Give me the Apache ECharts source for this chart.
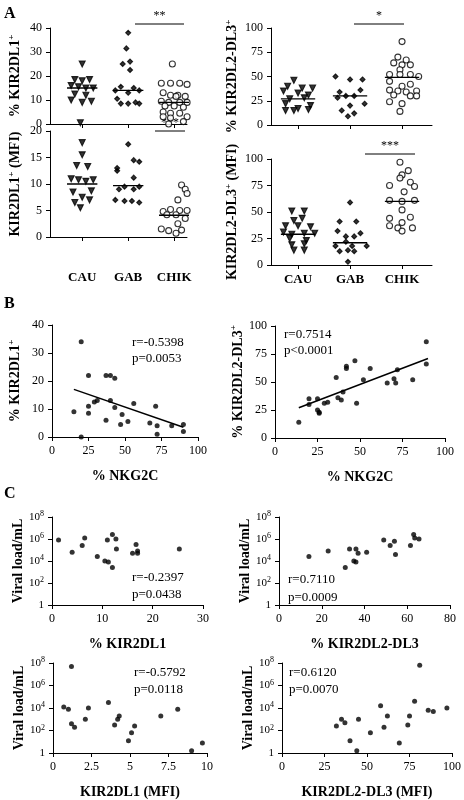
<!DOCTYPE html><html><head><meta charset="utf-8">
<script src="https://cdn.jsdelivr.net/npm/echarts@6/dist/echarts.min.js"></script>
<style>html,body{margin:0;background:#fff}#c{width:464px;height:800px}</style></head><body><div id="c"></div>
<script>
const groups=['CAU','GAB','CHIK'];
// Panel A: [dx, value] per group
const a1CAU=[[0,25],[-0.2,18.5],[0,18],[0.2,18.5],[-0.3,16],[-0.1,15.5],[0.1,15],[0.3,15],[-0.2,12.5],[0.1,12],[-0.3,10],[0.25,9.5],[0,9],[-0.05,0.5]];
const a1GAB=[[0,38],[-0.05,31.5],[-0.15,25],[0.05,26],[0.05,22.5],[-0.2,15.5],[0.15,15],[-0.35,14],[0.3,14],[0,13],[-0.3,10.5],[0.2,9],[-0.2,8.5],[0,8.5],[0.3,8.5]];
const a1CHIK=[[-0.05,25],[-0.35,17],[-0.1,17],[0.15,17],[0.35,16.5],[-0.3,13],[-0.1,12],[0.1,12],[0.3,11.5],[0.05,11.5],[-0.35,9.5],[-0.15,9],[0.15,9],[0.35,9],[-0.25,7.5],[0,7.5],[0.25,7],[-0.3,5],[-0.1,4.5],[0.15,4.5],[-0.3,3],[0.35,3],[-0.1,2.5],[0.25,1],[-0.15,0]];
const a1Med=[15,14,9];
const a2CAU=[[0,17.8],[0,15.5],[-0.15,13.5],[0.15,13.3],[-0.3,11],[-0.1,10.8],[0.1,10.5],[0.3,10.8],[-0.25,8.5],[0.25,8.7],[0,7.5],[-0.2,6.5],[0.2,7],[-0.05,5.5]];
const a2GAB=[[0,17.5],[0.15,14.5],[0.3,14.2],[-0.3,13],[-0.3,12.5],[0.15,11.2],[-0.1,9.5],[0.3,9.5],[0.15,9],[-0.25,9],[-0.35,7],[-0.1,6.8],[0.1,6.8],[0.3,6.5]];
const a2CHIK=[[0.2,9.8],[0.3,9],[0.35,8.2],[0.1,7],[-0.1,5.2],[0.15,5],[0.35,5],[-0.3,4.8],[-0.2,4.2],[0.05,4.2],[0.3,3.5],[0.1,2.5],[-0.35,1.5],[-0.15,1.2],[0.2,1.3],[0.45,1.2],[0.05,0.7]];
const a2Med=[10,9.7,4.1];
const a3CAU=[[-0.1,46],[-0.25,40],[0.1,38],[0.35,38],[-0.35,35],[0,33],[0.25,31],[-0.2,27],[0.15,28],[-0.3,22],[0.3,20],[0,17],[-0.3,15],[-0.1,15],[0.25,16]];
const a3GAB=[[-0.35,50],[0,47],[0.3,47],[-0.25,34],[0.25,36],[-0.1,30],[0.1,30],[-0.3,28],[0.35,22],[0,20],[-0.2,15],[0.1,12],[-0.05,9]];
const a3CHIK=[[0,86],[-0.1,70],[0.1,67],[-0.2,64],[0,62],[0.2,62],[-0.05,57],[-0.3,52],[-0.05,52],[0.2,52],[0.4,50],[-0.3,45],[0,40],[0.2,42],[-0.3,36],[-0.1,35],[0.1,34],[0.35,35],[-0.2,31],[0.2,30],[0.35,30],[-0.3,24],[0,22],[-0.05,14]];
const a3Med=[27,30,49];
const a4CAU=[[-0.15,51],[0.15,51],[-0.1,42],[0.1,44],[-0.3,37],[0,37],[0.3,36],[-0.35,31],[-0.15,29],[0.15,30],[0.4,30],[-0.2,25],[0.2,23],[-0.15,19],[0.15,20],[-0.1,14],[0.15,14]];
const a4GAB=[[0,59],[-0.25,41],[0.15,41],[-0.3,32],[0.25,30],[-0.1,27],[0.1,27],[-0.1,22],[-0.35,18],[0.05,18],[0.4,18],[-0.25,13],[0.1,13],[-0.05,14],[-0.05,3]];
const a4CHIK=[[-0.05,97],[0.15,89],[0,85],[-0.05,82],[0.2,78],[-0.3,75],[0.3,74],[0.05,69],[-0.3,61],[0,60],[0.3,61],[0,52],[-0.3,44],[0.2,45],[0,40],[-0.3,37],[-0.1,35],[0.25,35],[0,32]];
const a4Med=[29,21,60];
// Panel B: [x, y]
const b1=[[20,34],[25,22],[37,22],[40,22],[43,21],[15,9],[25,11],[25,8.5],[29,12.5],[31,13],[40,13],[43,10.5],[37,6],[47,4.5],[48,8],[52,5.5],[56,12],[67,5],[71,11],[72,4],[72,1],[82,4],[90,4.5],[90,2],[20,0]];
const b1Fit=[[15,17],[90,3.5]];
const b2=[[14,14],[20,35],[20,30],[25,35],[25,25],[26,23],[26,22],[29,31],[31,32],[36,54],[37,36],[39,34],[40,41],[42,64],[42,62],[47,69],[48,31],[52,52],[56,62],[66,49],[70,53],[71,49],[72,61],[81,52],[89,86],[89,66]];
const b2Fit=[[14,27],[90,71]];
// Panel C: [x, log10 viral load]
const c1=[[1.3,5.9],[4,8.5],[4,4.8],[6,5.4],[6.5,6.1],[9,4.4],[10.5,4],[11,5.9],[11.2,3.9],[12,3.4],[12,6.4],[12.7,6],[12.8,5.1],[16,4.7],[16.7,5.5],[17,4.7],[17,4.9],[25.3,5.1]];
const c2=[[14,4.4],[23,4.9],[31,3.4],[33,5.1],[35,4],[36,3.9],[36,5.1],[37,4.7],[41,4.8],[49,5.9],[52,5.4],[52.5,8.6],[54,5.8],[54.5,4.6],[61.5,5.4],[63,6.4],[63.5,6.1],[65.5,6]];
const c3=[[0.7,4.1],[1,3.9],[1.2,7.7],[1.2,2.6],[1.4,2.3],[2.1,3],[2.3,4],[3.6,4.5],[4,2.5],[4.2,3],[4.3,3.3],[4.9,1.1],[5.1,1.8],[5.3,2.4],[7,3.3],[8.1,3.9],[9,0.2],[9.7,0.9]];
const c4=[[32,2.4],[35,3],[37,2.7],[40,1.1],[44,0.2],[45,3],[52,1.8],[58,4.2],[60,2.3],[62,3.3],[69,0.9],[74,2.5],[75,3.3],[78,4.6],[81,7.8],[86,3.8],[89,3.7],[97,4]];

const F='Liberation Serif';
const grid=[],xAxis=[],yAxis=[],series=[],graphic=[];
const lineC='#000';
const ax={axisLine:{show:true,lineStyle:{color:lineC}},axisTick:{show:true,inside:false,length:4,lineStyle:{color:lineC}},splitLine:{show:false},axisLabel:{color:'#000',fontFamily:F,fontSize:12}};
const nameStyle={fontFamily:F,fontWeight:'bold',fontSize:14,color:'#000',rich:{s:{fontSize:9,fontWeight:'bold',fontFamily:F,verticalAlign:'top',padding:[0,0,8,0]}}};
function addGrid(g){grid.push(g);return grid.length-1;}
function dotPanel(g,bandMax,centers,max,interval,yname,data,med,showLabels,labelMargin,nameGap){
  const gi=addGrid(g);
  xAxis.push(Object.assign({},ax,{gridIndex:gi,type:'value',min:0,max:bandMax,axisTick:{show:false},axisLabel:{show:false}}));
  yAxis.push(Object.assign({},ax,{gridIndex:gi,type:'value',min:0,max:max,interval:interval,name:yname,nameLocation:'middle',nameGap:nameGap,nameRotate:90,nameTextStyle:nameStyle}));
  const xi=xAxis.length-1, yi=yAxis.length-1;
  const syms=[['triangle',6,180,'#000','#000'],['diamond',5,0,'#000','#000'],['circle',6,0,'#fff','#000']];
  const js=0.8;
  data.forEach((d,k)=>{
    series.push({type:'scatter',xAxisIndex:xi,yAxisIndex:yi,symbol:syms[k][0],symbolSize:syms[k][1],symbolRotate:syms[k][2],
      itemStyle:{color:syms[k][3],borderColor:syms[k][4],borderWidth:1.1},data:d.map(p=>[centers[k]+p[0]*js,p[1]]),silent:true});
    series.push({type:'line',xAxisIndex:xi,yAxisIndex:yi,symbol:'none',lineStyle:{color:'#000',width:1.3},data:[[centers[k]-0.33,med[k]],[centers[k]+0.33,med[k]]],silent:true});
  });
  const band=g.width/bandMax;
  const gj=addGrid({left:g.left+centers[0]*band-band/2,top:g.top,width:band*3,height:g.height});
  xAxis.push({gridIndex:gj,type:'category',data:groups,axisLine:{show:false},axisTick:{show:true,alignWithLabel:true,length:4,lineStyle:{color:'#000'}},
    axisLabel:{show:showLabels,margin:labelMargin,color:'#000',fontFamily:F,fontWeight:'bold',fontSize:13}});
  yAxis.push({gridIndex:gj,type:'value',show:false});
}
dotPanel({left:50,top:28,width:137,height:96},137/46,[0.7,1.7,2.7],40,10,'% KIR2DL1{s|+}',[a1CAU,a1GAB,a1CHIK],a1Med,false,8,26);
dotPanel({left:50,top:131,width:137,height:106},137/46,[0.7,1.7,2.7],20,5,'KIR2DL1{s|+} (MFI)',[a2CAU,a2GAB,a2CHIK],a2Med,true,34,26);
dotPanel({left:271,top:28,width:161,height:97},161/52,[0.52,1.52,2.52],100,25,'% KIR2DL2-DL3{s|+}',[a3CAU,a3GAB,a3CHIK],a3Med,false,8,30);
dotPanel({left:271,top:159,width:161,height:106},161/52,[0.52,1.52,2.52],100,25,'KIR2DL2-DL3{s|+} (MFI)',[a4CAU,a4GAB,a4CHIK],a4Med,true,8,30);

function xyPanel(g,xmin,xmax,xint,ymin,ymax,yint,xname,yname,data,fit,logY,nameGapY){
  const gi=addGrid(g);
  xAxis.push(Object.assign({},ax,{gridIndex:gi,type:'value',min:xmin,max:xmax,interval:xint,name:xname,nameLocation:'middle',nameGap:32,nameTextStyle:nameStyle}));
  const y=Object.assign({},ax,{gridIndex:gi,type:'value',min:ymin,max:ymax,interval:yint,name:yname,nameLocation:'middle',nameGap:nameGapY,nameRotate:90,nameTextStyle:nameStyle});
  if(logY){y.axisLabel={color:'#000',fontFamily:F,fontSize:11,formatter:v=>v===0?'1':'10{s|'+v+'}',rich:{s:{fontSize:8,fontFamily:F,verticalAlign:'top',padding:[0,0,6,0]}}};}
  yAxis.push(y);
  const xi=xAxis.length-1, yi=yAxis.length-1;
  series.push({type:'scatter',xAxisIndex:xi,yAxisIndex:yi,symbolSize:5,itemStyle:{color:'#000'},data:data,silent:true});
  if(fit) series.push({type:'line',xAxisIndex:xi,yAxisIndex:yi,symbol:'none',lineStyle:{color:'#000',width:1.5},data:fit,silent:true});
}
xyPanel({left:52,top:325,width:146,height:112},0,100,25,0,40,10,'% NKG2C','% KIR2DL1{s|+}',b1,b1Fit,false,28);
xyPanel({left:275,top:326,width:170,height:112},0,100,25,0,100,25,'% NKG2C','% KIR2DL2-DL3{s|+}',b2,b2Fit,false,28);
xyPanel({left:52,top:517,width:151,height:88},0,30,10,0,8,2,'% KIR2DL1','Viral load/mL',c1,null,true,26);
xyPanel({left:279,top:517,width:171,height:88},0,80,20,0,8,2,'% KIR2DL2-DL3','Viral load/mL',c2,null,true,26);
xyPanel({left:53,top:663,width:154,height:90},0,10,2.5,0,8,2,'KIR2DL1 (MFI)','Viral load/mL',c3,null,true,26);
xyPanel({left:282,top:663,width:171,height:90},0,100,25,0,8,2,'KIR2DL2-DL3 (MFI)','Viral load/mL',c4,null,true,26);

function txt(x,y,t,o){graphic.push({type:'text',left:x,top:y,style:Object.assign({text:t,fill:'#000',font:'13px "Liberation Serif"'},o||{})});}
txt(4,6,'A',{font:'bold 16px "Liberation Serif"'});
txt(4,296,'B',{font:'bold 16px "Liberation Serif"'});
txt(4,486,'C',{font:'bold 16px "Liberation Serif"'});
function sig(x1,x2,y,s){graphic.push({type:'line',shape:{x1:x1,y1:y,x2:x2,y2:y},style:{stroke:'#000',lineWidth:1}});
  graphic.push({type:'text',x:(x1+x2)/2,y:y-2,style:{text:s,fill:'#000',font:'12px "Liberation Serif"',textAlign:'center',textVerticalAlign:'bottom'}});}
sig(135,184,24,'**');sig(354,404,24,'*');sig(155,185,131,'***');sig(365,415,154,'***');
txt(132,336,'r=-0.5398');txt(132,352,'p=0.0053');
txt(284,328,'r=0.7514');txt(284,344,'p<0.0001');
txt(132,571,'r=-0.2397');txt(132,588,'p=0.0438');
txt(288,573,'r=0.7110');txt(288,591,'p=0.0009');
txt(134,666,'r=-0.5792');txt(134,683,'p=0.0118');
txt(289,666,'r=0.6120');txt(289,683,'p=0.0070');

const chart=echarts.init(document.getElementById('c'));
chart.setOption({animation:false,backgroundColor:'#fff',grid,xAxis,yAxis,series,graphic});
</script></body></html>
